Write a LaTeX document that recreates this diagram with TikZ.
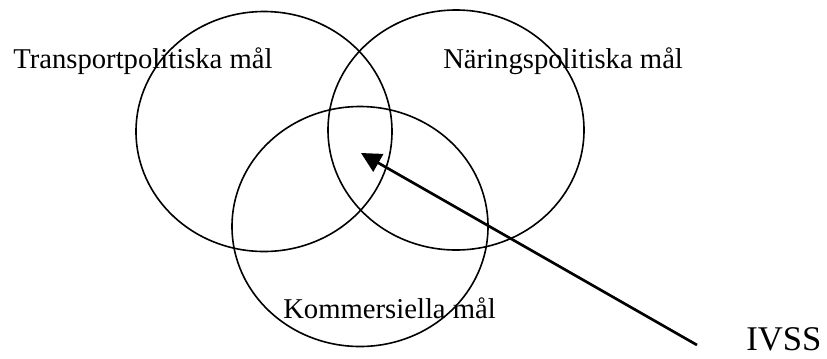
\documentclass[tikz,border=0pt]{standalone}
\usepackage{fontspec}
\setmainfont{Liberation Serif}
\usetikzlibrary{arrows.meta,shapes.geometric,positioning}

\tikzset{
  mal/.style={draw,ellipse,line width=1.2pt,minimum width=192pt,minimum height=180pt,inner sep=0pt},
  etikett/.style={anchor=base west,inner sep=0pt,font=\fontsize{21.5}{24}\selectfont},
}

\begin{document}
\begin{tikzpicture}[x=0.75pt,y=-0.75pt,>={Triangle[length=15pt,width=15pt]}]
\useasboundingbox (0,0) rectangle (827,358);
\node[mal] (transp) at (264,131.5) {};
\node[mal] (naering) at (456,130) {};
\node[mal] (kommers) at (360,226.5) {};
\node[etikett] (ltransp) at (13,68) {Transportpolitiska mål};
\node[etikett] (lnaering) at (443,68) {Näringspolitiska mål};
\node[etikett] (lkommers) at (283,318) {Kommersiella mål};
\node[etikett,font=\fontsize{26}{29}\selectfont] (ivss) at (746,350) {IVSS};
% pilen mot snittet
\coordinate (svans) at (697,345);
\coordinate (spets) at (361,153);
\draw[->,line width=2pt] (svans)--(spets);
\end{tikzpicture}
\end{document}
